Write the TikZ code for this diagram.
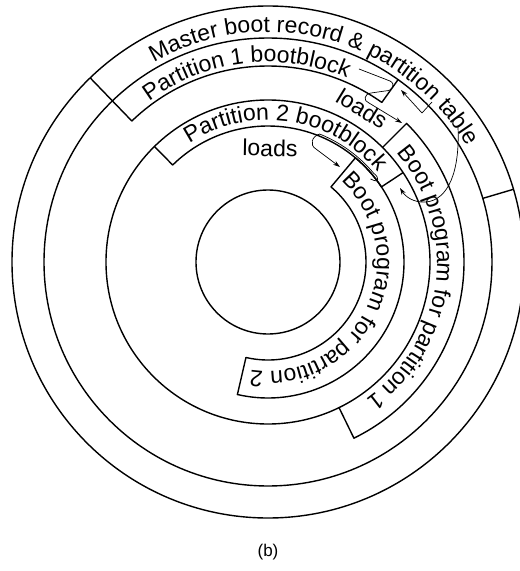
\documentclass[tikz,border=0pt]{standalone}
\usepackage{fontspec}
\setmainfont{Liberation Sans}
\usetikzlibrary{decorations.text,arrows.meta}
\newcommand\dfont{\fontsize{23}{27}\selectfont}
\begin{document}
\begin{tikzpicture}[x=1pt,y=1pt,line join=round,
  track/.style={line width=1.4pt},
  thinline/.style={line width=0.7pt},
  arr/.style={thinline,-{Stealth[length=7pt,width=4.5pt]}},
  lbl/.style={font=\dfont,inner sep=0pt}]
\useasboundingbox (-268,-309) rectangle (252,262);
\clip (-268,-309) rectangle (252,262);
\coordinate (O) at (0,0);
% full tracks
\draw[track] (O) circle[radius=256];
\draw[track] (O) circle[radius=224];
\draw[track] (O) circle[radius=162];
\draw[track] (O) circle[radius=72];
% master boot record block ends
\draw[track] (134:256) -- (134:224);
\draw[track] (16.5:256) -- (16.5:224);
% partition 1 bootblock
\draw[track] (134:224) -- (134:196) arc[start angle=134,end angle=54.5,radius=196] -- (54.5:224);
% boot program for partition 1
\draw[track] (45:162) -- (45:196) arc[start angle=45,end angle=-64,radius=196] -- (-64:162);
% partition 2 bootblock
\draw[track] (134.5:162) -- (134.5:136) arc[start angle=134.5,end angle=33.5,radius=136] -- (33.5:162);
% boot program for partition 2
\draw[track] (50:98) -- (50:136) arc[start angle=50,end angle=-103,radius=136] -- (-103:98) arc[start angle=-103,end angle=50,radius=98] -- cycle;
% texts along arcs
\path[decorate,decoration={text along path,text align=center,
  text={|\dfont|Master boot record {\&} partition table}}]
  (145:230) arc[start angle=145,end angle=5,radius=230];
\path[decorate,decoration={text along path,text align=center,
  text={|\dfont|Partition 1 bootblock}}]
  (166.6:200) arc[start angle=166.6,end angle=26.6,radius=200];
\path[decorate,decoration={text along path,text align=center,
  text={|\dfont|Partition 2 bootblock}}]
  (151.5:142) arc[start angle=151.5,end angle=11.5,radius=142];
\path[decorate,decoration={text along path,text align=center,
  text={|\dfont|Boot program for partition 1}}]
  (63:169) arc[start angle=63,end angle=-77,radius=169];
\path[decorate,decoration={text along path,text align=center,
  text={|\dfont|Boot program for partition 2}}]
  (69.5:109) arc[start angle=69.5,end angle=-120.5,radius=109];
% labels
\node[lbl,rotate=-31.5] (loads1) at (58.5:180) {loads};
\node[lbl,rotate=-1] (loads2) at (89:114) {loads};
\node[font=\fontsize{17}{20}\selectfont] (cap) at (0,-290) {(b)};
% arrows
\coordinate (l1s) at (91,193);
\coordinate (l1e) at (134,139);
\draw[arr] (l1s) -- (122,181) .. controls (128,178) and (125,171) .. (117,171) -- (103,169) .. controls (96,168) and (95,161) .. (101,159) -- (l1e);
\coordinate (m1s) at (164,160);
\coordinate (m1e) at (133,172);
\draw[arr] (m1s) -- (154,149) -- (m1e);
\coordinate (m2s) at (190,135);
\coordinate (m2e) at (132,74);
\draw[arr] (m2s) .. controls (192,90) and (180,62) .. (158,60) .. controls (145,59) and (137,66) .. (m2e);
\coordinate (l2s) at (39:132);
\coordinate (l2e) at (72,95);
\draw[arr] (l2s) .. controls (35:136) and (37:140) .. (40:138) arc[start angle=40,end angle=68,radius=138] .. controls (44,126) and (41,117) .. (48,113) -- (l2e);
\end{tikzpicture}
\end{document}
